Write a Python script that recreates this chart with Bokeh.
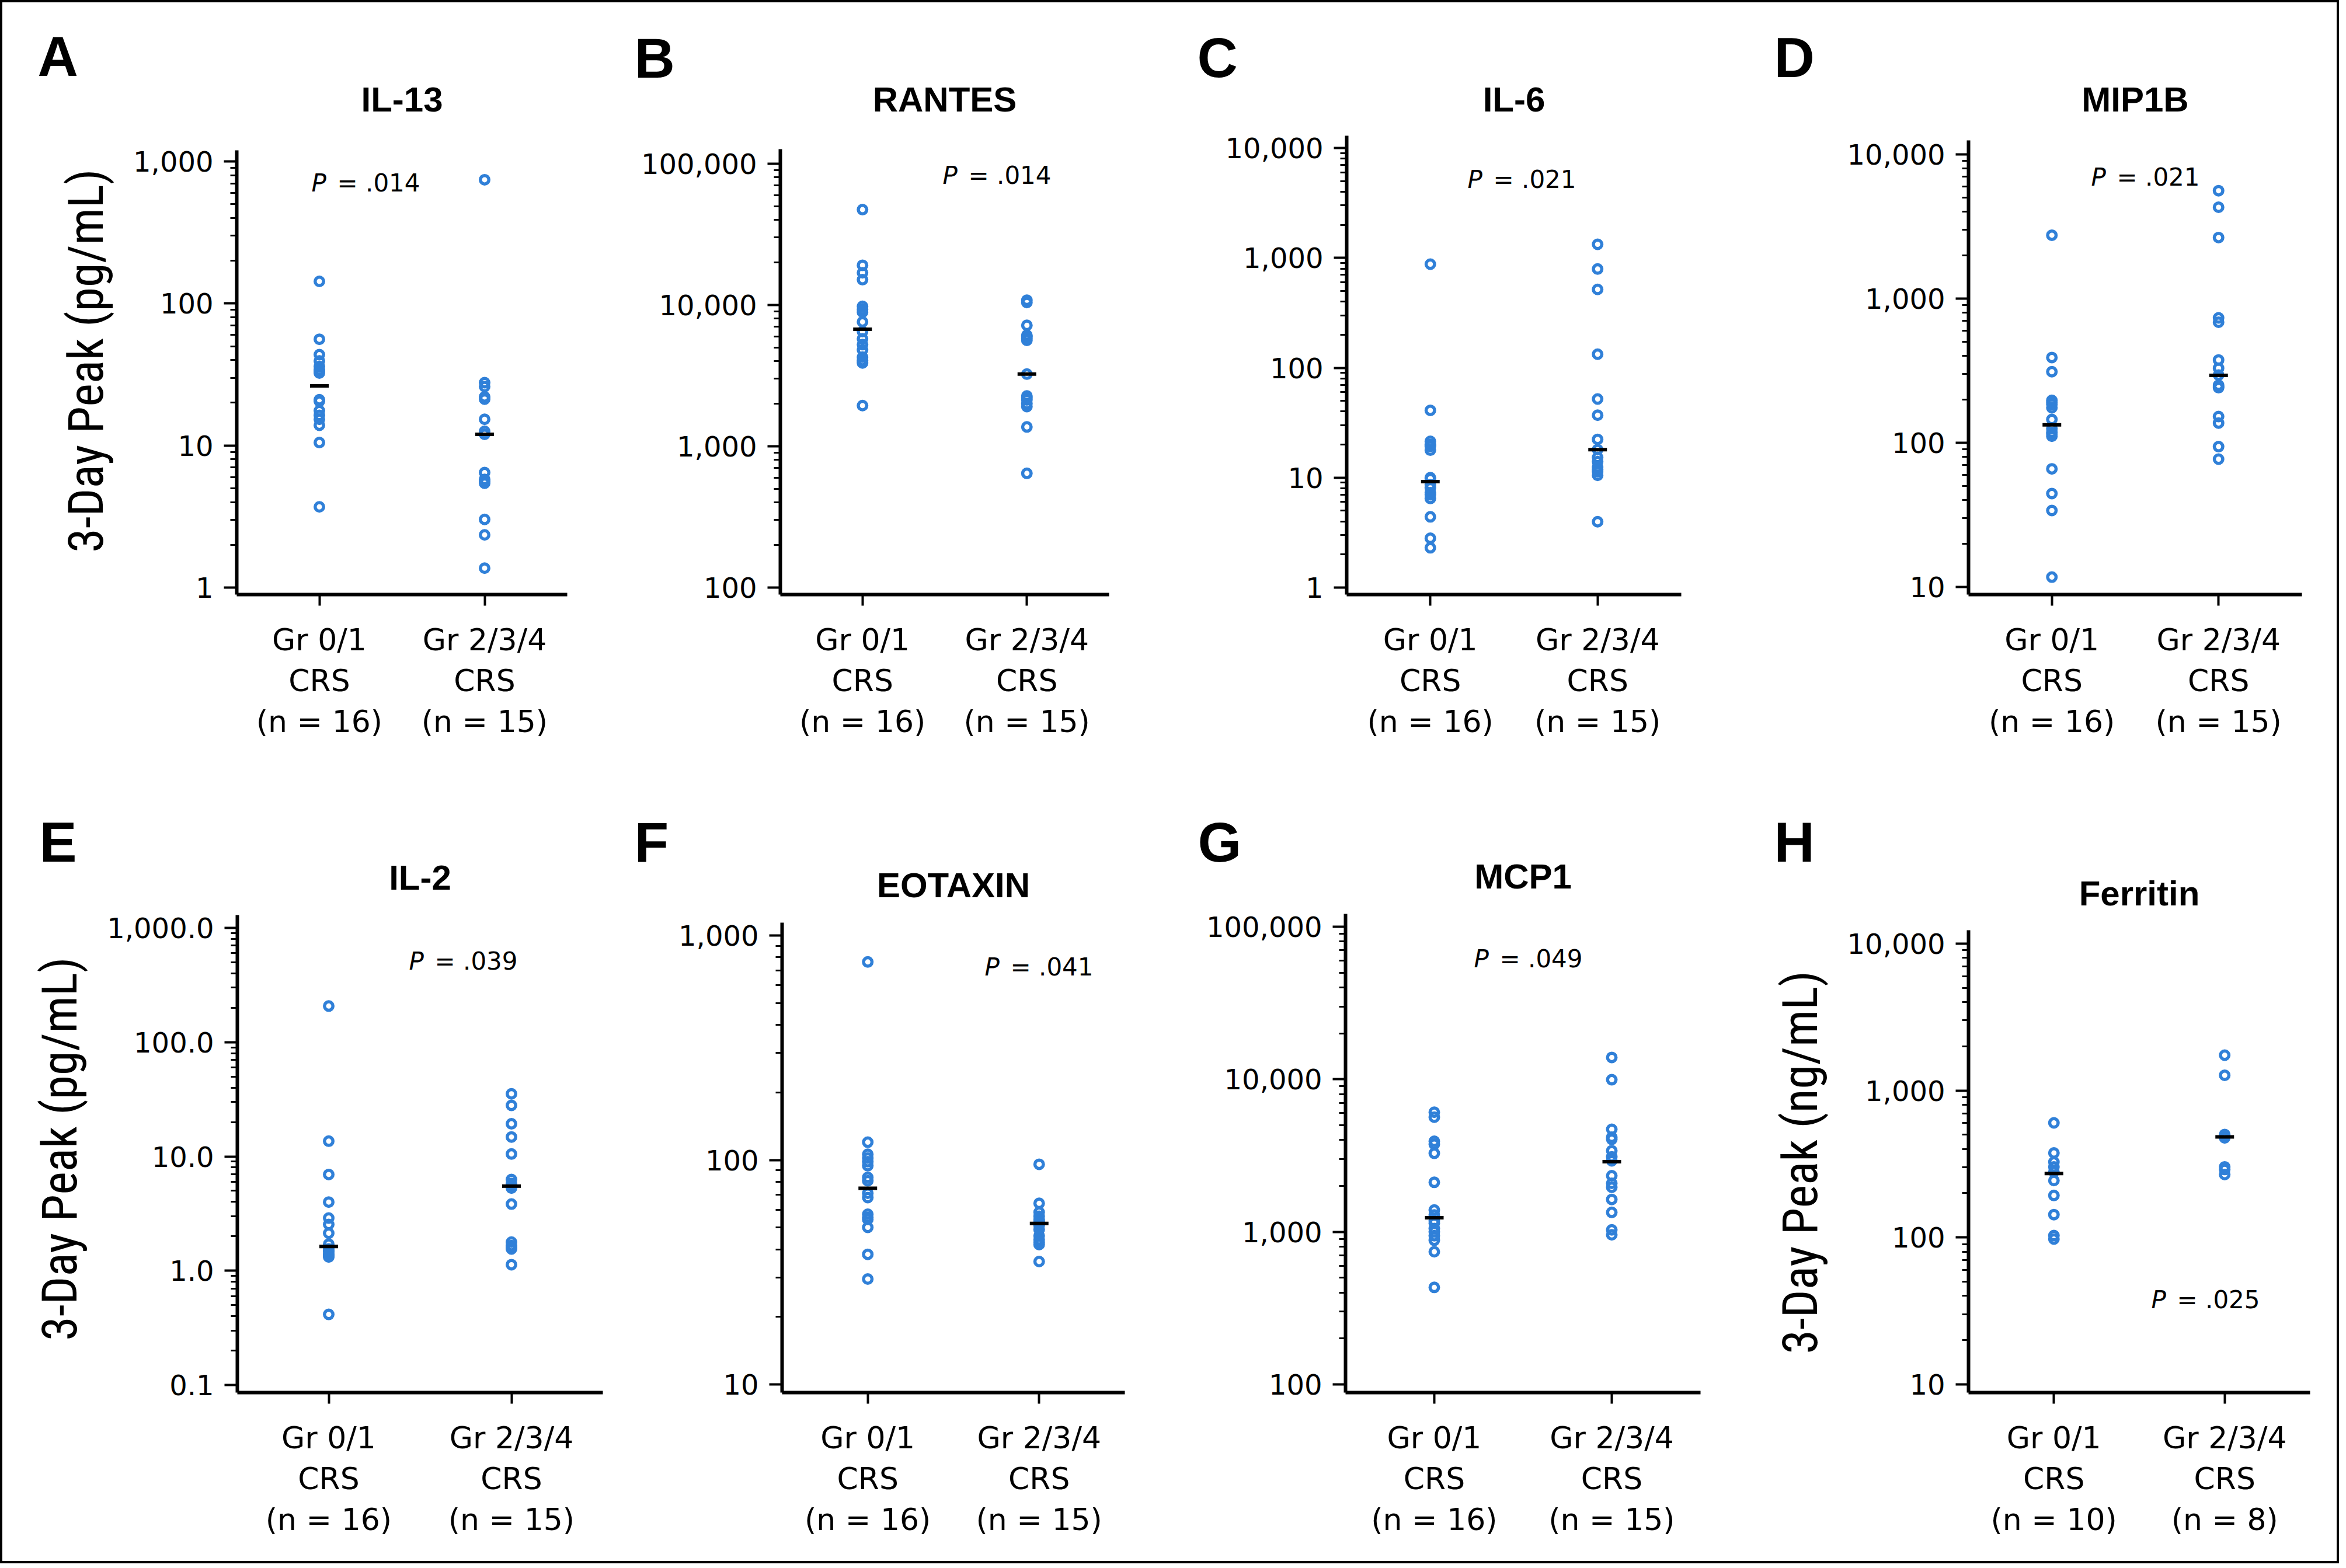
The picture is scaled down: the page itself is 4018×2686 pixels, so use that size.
from bokeh.plotting import figure
from bokeh.models import Range1d, FixedTicker, Label, Title
from bokeh.layouts import row, column
from bokeh.embed import file_html
from bokeh.resources import INLINE

# ---------------- data ----------------
letters = ["A", "B", "C", "D", "E", "F", "G", "H"]
titles = ["IL-13", "RANTES", "IL-6", "MIP1B", "IL-2", "EOTAXIN", "MCP1", "Ferritin"]
p_values = [".014", ".014", ".021", ".021", ".039", ".041", ".049", ".025"]
n_low = [16, 16, 16, 16, 16, 16, 16, 10]
n_high = [15, 15, 15, 15, 15, 15, 15, 8]
y_titles = ["3-Day Peak (pg/mL)", None, None, None, "3-Day Peak (pg/mL)", None, None, "3-Day Peak (ng/mL)"]

il13_low = [143, 56, 43.6, 39.4, 36, 34.2, 33.5, 32.4, 21, 20.5, 17.6, 16.3, 15.3, 13.9, 10.5, 3.7]
il13_high = [743, 27.7, 26, 22, 21.2, 15.3, 12.6, 12.0, 6.45, 5.78, 5.6, 5.43, 3.02, 2.35, 1.37]
rantes_low = [47300, 19100, 16900, 15100, 9770, 9300, 8890, 7590, 6480, 5760, 5240, 4800, 4270, 4040, 3890, 1940]
rantes_high = [10800, 10400, 7180, 6100, 5990, 5800, 5620, 3240, 2270, 2200, 2130, 2000, 1910, 1370, 643]
il6_low = [877, 41, 21.4, 20, 19.3, 17.8, 10, 9.8, 8.6, 8.08, 7.3, 7.0, 6.47, 4.4, 2.81, 2.30]
il6_high = [1330, 792, 517, 133, 52, 37, 22.3, 18, 15.3, 14, 12.5, 11.8, 11.3, 10.5, 3.97]
mip1b_low = [2750, 390, 311, 197, 191, 185, 175, 145, 125, 118, 115, 111, 65.9, 44.4, 33.9, 11.7]
mip1b_high = [5600, 4300, 2650, 734, 685, 375, 329, 295, 251, 245, 241, 152, 137, 94, 77]
il2_low = [207, 13.6, 6.95, 3.99, 2.89, 2.54, 2.13, 1.71, 1.55, 1.5, 1.47, 1.4, 1.38, 1.35, 1.32, 0.415]
il2_high = [35.3, 28, 19.3, 14.8, 10.5, 6.28, 5.8, 5.57, 5.29, 3.83, 1.78, 1.66, 1.6, 1.55, 1.13]
eotaxin_low = [762, 120, 106, 102, 98.3, 94.3, 83.7, 80.8, 71.1, 68, 57.3, 55.5, 54.4, 50.1, 38, 29.5]
eotaxin_high = [95.7, 64.1, 58.5, 56.1, 54.4, 53.5, 53, 52.2, 51, 48.9, 45.9, 44.1, 43, 42, 35.3]
mcp1_low = [6080, 5640, 3920, 3750, 3270, 2110, 1390, 1290, 1180, 1140, 1050, 1000, 942, 880, 740, 432]
mcp1_high = [13900, 9930, 4700, 4170, 4040, 3400, 3100, 2920, 2330, 2080, 1960, 1630, 1340, 1030, 955]
ferritin_low = [602, 376, 326, 302, 280, 244, 193, 143, 103, 97.6]
ferritin_high = [1740, 1270, 502, 490, 476, 302, 290, 268]

medians_low = [26.3, 6740, 9.2, 133, 1.63, 74.8, 1235, 272]
medians_high = [12.0, 3240, 18.0, 293, 5.5, 52.2, 2880, 483]

low_series = [il13_low, rantes_low, il6_low, mip1b_low, il2_low, eotaxin_low, mcp1_low, ferritin_low]
high_series = [il13_high, rantes_high, il6_high, mip1b_high, il2_high, eotaxin_high, mcp1_high, ferritin_high]

decade_ticks = [
    [1, 10, 100, 1000],
    [100, 1000, 10000, 100000],
    [1, 10, 100, 1000, 10000],
    [10, 100, 1000, 10000],
    [0.1, 1, 10, 100, 1000],
    [10, 100, 1000],
    [100, 1000, 10000, 100000],
    [10, 100, 1000, 10000],
]
tick_labels = [
    ["1", "10", "100", "1,000"],
    ["100", "1,000", "10,000", "100,000"],
    ["1", "10", "100", "1,000", "10,000"],
    ["10", "100", "1,000", "10,000"],
    ["0.1", "1.0", "10.0", "100.0", "1,000.0"],
    ["10", "100", "1,000"],
    ["100", "1,000", "10,000", "100,000"],
    ["10", "100", "1,000", "10,000"],
]

# ---------------- layout / style ----------------
BLUE = "#3080d8"
COND_FONT = "Roboto Condensed, DejaVu Sans Condensed, Liberation Sans Narrow, Arial Narrow, Roboto"
NBSP = "\u00a0"
# per panel: width, height, borders around the axes box (l, r, t, b), log10 y-range (lo, hi)
geom = [
    (988, 1328, 393, 29, 245, 322, -0.049, 3.078),
    (1000, 1328, 336, 101, 243, 322, 1.950, 5.103),
    (1000, 1328, 306, 121, 220, 322, -0.064, 4.112),
    (1002, 1328, 371, 60, 228, 322, 0.947, 4.097),
    (1028, 1334, 394, 8, 227, 289, -1.066, 3.112),
    (960, 1334, 299, 74, 240, 289, 0.964, 3.057),
    (1000, 1334, 304, 88, 225, 289, 1.946, 5.084),
    (1002, 1334, 371, 46, 253, 289, 0.944, 4.091),
]
# title centre above axes top, letter (dx from axes left, centre above axes top), P text (dx, dy below top)
title_dy = [87, 85, 62, 70, 64, 64, 64, 63]
letter_pos = [(-341, 161), (-250, 156), (-256, 134), (-333, 142), (-339, 125), (-253, 138), (-253, 123), (-333, 151)]
p_pos = [(128, 56), (278, 45), (207, 75), (210, 63), (294, 79), (347, 76), (220, 77), (313, 633)]
ylabel_pad = [4, 0, 0, 0, 4, 0, 0, 5]   # trailing no-break spaces to centre the y title on the axis
LETTER_H = 107


def make_panel(i):
    w, h, bl, br, bt, bb, lo, hi = geom[i]
    ext = title_dy[i] + 30                      # frame extends above the axes box to hold the title
    decade_px = (h - bt - bb) / (hi - lo)
    hi_ext = hi + ext / decade_px
    ystart, ytop, yend = 10 ** lo, 10 ** hi, 10 ** hi_ext
    p = figure(width=w, height=h, x_range=Range1d(0.5, 2.5), y_range=Range1d(ystart, yend),
               y_axis_type="log", output_backend="svg", toolbar_location=None,
               min_border_left=bl, min_border_right=br, min_border_top=bt - ext, min_border_bottom=bb)
    p.frame_align = False
    p.outline_line_color = None
    p.grid.visible = False
    p.background_fill_color = "white"
    p.border_fill_color = "white"

    majors = [float(t) for t in decade_ticks[i]]
    minors = []
    for t in majors[:-1]:
        minors += [t * m for m in range(2, 10)]
    ya = p.yaxis[0]
    ya.ticker = FixedTicker(ticks=majors, minor_ticks=minors)
    ya.bounds = (ystart, ytop)
    ya.major_label_overrides = {t: s for t, s in zip(majors, tick_labels[i])}
    ya.axis_line_width = 6
    ya.axis_line_color = "black"
    ya.major_tick_line_width = 4
    ya.major_tick_out = 22
    ya.major_tick_in = 0
    ya.minor_tick_line_width = 3
    ya.minor_tick_out = 11
    ya.minor_tick_in = 0
    ya.major_label_text_font = "DejaVu Sans"
    ya.major_label_text_font_size = "48px"
    ya.major_label_text_color = "black"
    ya.major_label_standoff = 18
    if y_titles[i]:
        ya.axis_label = y_titles[i] + NBSP * ylabel_pad[i]
        ya.axis_label_text_font = COND_FONT
        ya.axis_label_text_font_style = "normal"
        ya.axis_label_text_font_size = "84px"
        ya.axis_label_text_color = "black"
        ya.axis_label_standoff = 28

    xa = p.xaxis[0]
    xa.ticker = FixedTicker(ticks=[1, 2], minor_ticks=[])
    xa.major_label_overrides = {
        1: "%s\nCRS\n(n = %d)" % ("Gr 0/1", n_low[i]),
        2: "%s\nCRS\n(n = %d)" % ("Gr 2/3/4", n_high[i]),
    }
    xa.axis_line_width = 6
    xa.axis_line_color = "black"
    xa.major_tick_line_width = 4
    xa.major_tick_out = 19
    xa.major_tick_in = 0
    xa.minor_tick_line_color = None
    xa.major_label_text_font = "DejaVu Sans"
    xa.major_label_text_font_size = "52px"
    xa.major_label_text_color = "black"
    xa.major_label_text_line_height = 1.17
    xa.major_label_standoff = 28

    lows = low_series[i]
    highs = high_series[i]
    p.scatter(x=[1] * len(lows), y=lows, marker="circle", size=14.5,
              fill_color=None, line_color=BLUE, line_width=5.5)
    p.scatter(x=[2] * len(highs), y=highs, marker="circle", size=14.5,
              fill_color=None, line_color=BLUE, line_width=5.5)
    p.scatter(x=[1, 2], y=[medians_low[i], medians_high[i]], marker="dash", size=32,
              line_color="black", line_width=6)

    # chart title, inside the (extended) frame
    p.add_layout(Label(x=1.5, y=ytop, y_offset=title_dy[i], text=titles[i],
                       text_align="center", text_baseline="middle",
                       text_font="Liberation Sans", text_font_style="bold",
                       text_font_size="60px", text_color="black"))
    # panel letter, in the panel above the frame
    ldx, ldy = letter_pos[i]
    ls = 2 * (ldy - ext) - LETTER_H
    p.add_layout(Title(text=letters[i], align="left", offset=ldx, standoff=ls,
                       text_font="Liberation Sans", text_font_style="bold",
                       text_font_size="96px", text_color="black"), "above")

    pdx, pdy = p_pos[i]
    p.add_layout(Label(x=0.5, y=ytop, x_offset=pdx, y_offset=-pdy, text="P",
                       text_align="left", text_baseline="middle",
                       text_font="DejaVu Sans", text_font_style="italic",
                       text_font_size="42px", text_color="black"))
    p.add_layout(Label(x=0.5, y=ytop, x_offset=pdx + 44, y_offset=-pdy, text="= " + p_values[i],
                       text_align="left", text_baseline="middle",
                       text_font="DejaVu Sans", text_font_style="normal",
                       text_font_size="42px", text_color="black"))
    return p


panels = [make_panel(i) for i in range(8)]
layout = column(row(*panels[:4]), row(*panels[4:]),
                styles={"border": "4px solid black", "padding-left": "8px", "padding-top": "8px"})

open("out.html", "w").write(file_html(layout, INLINE))
